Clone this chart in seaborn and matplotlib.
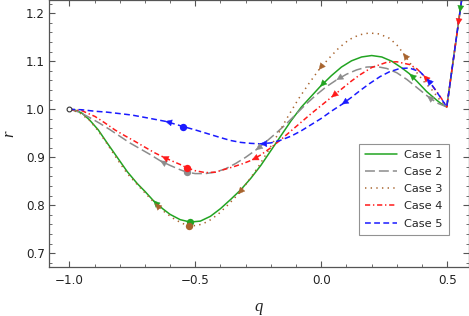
import numpy as np
import pandas as pd
import seaborn as sns
import matplotlib
matplotlib.use("Agg")
import matplotlib.pyplot as plt
from matplotlib.ticker import MultipleLocator

# ---------------- data ----------------
cases = ["Case 1", "Case 2", "Case 3", "Case 4", "Case 5"]

q1 = [-1.0, -0.975, -0.95, -0.92, -0.885, -0.85, -0.81, -0.77, -0.73, -0.70, -0.667, -0.63, -0.60,
      -0.56, -0.52, -0.48, -0.44, -0.40, -0.36, -0.32, -0.28, -0.24, -0.20, -0.16, -0.12, -0.08,
      -0.04, -0.005, 0.04, 0.08, 0.12, 0.16, 0.20, 0.24, 0.28, 0.32, 0.35, 0.38, 0.418, 0.458,
      0.48, 0.498, 0.525, 0.55, 0.557]
r1 = [1.0, 0.998, 0.992, 0.978, 0.957, 0.930, 0.900, 0.870, 0.845, 0.829, 0.810, 0.793, 0.781,
      0.770, 0.765, 0.767, 0.777, 0.793, 0.812, 0.832, 0.856, 0.883, 0.914, 0.945, 0.976, 1.004,
      1.027, 1.047, 1.070, 1.088, 1.101, 1.109, 1.112, 1.109, 1.100, 1.086, 1.074, 1.058, 1.037, 1.019,
      1.010, 1.005, 1.107, 1.202, 1.228]

q2 = [-1.0, -0.96, -0.92, -0.88, -0.84, -0.80, -0.76, -0.72, -0.68, -0.64, -0.60, -0.56, -0.534,
      -0.50, -0.46, -0.42, -0.38, -0.34, -0.30, -0.26, -0.22, -0.18, -0.14, -0.10, -0.06, -0.02,
      0.02, 0.06, 0.10, 0.14, 0.18, 0.22, 0.26, 0.30, 0.34, 0.38, 0.42, 0.46, 0.498, 0.557]
r2 = [1.0, 0.994, 0.983, 0.971, 0.958, 0.944, 0.930, 0.918, 0.906, 0.893, 0.883, 0.874, 0.869,
      0.866, 0.866, 0.869, 0.876, 0.887, 0.900, 0.915, 0.932, 0.950, 0.969, 0.990, 1.011, 1.030,
      1.047, 1.061, 1.073, 1.082, 1.088, 1.089, 1.085, 1.076, 1.062, 1.045, 1.028, 1.013, 1.005, 1.228]

q3 = [-1.0, -0.96, -0.92, -0.885, -0.85, -0.81, -0.77, -0.73, -0.70, -0.66, -0.62, -0.58, -0.55,
      -0.525, -0.49, -0.45, -0.41, -0.37, -0.33, -0.29, -0.25, -0.21, -0.17, -0.13, -0.09, -0.05,
      -0.01, 0.03, 0.07, 0.11, 0.15, 0.19, 0.23, 0.27, 0.30, 0.325, 0.35, 0.378, 0.41, 0.44,
      0.471, 0.498, 0.557]
r3 = [1.0, 0.993, 0.977, 0.955, 0.928, 0.896, 0.866, 0.843, 0.826, 0.804, 0.785, 0.770, 0.762,
      0.757, 0.758, 0.766, 0.781, 0.801, 0.823, 0.850, 0.880, 0.914, 0.950, 0.987, 1.022, 1.053,
      1.082, 1.106, 1.128, 1.145, 1.155, 1.159, 1.157, 1.148, 1.134, 1.117, 1.098, 1.077, 1.056, 1.040,
      1.019, 1.005, 1.228]

q4 = [-1.0, -0.95, -0.898, -0.86, -0.819, -0.78, -0.739, -0.70, -0.66, -0.633, -0.60, -0.56, -0.533,
      -0.50, -0.46, -0.42, -0.389, -0.35, -0.31, -0.276, -0.24, -0.20, -0.16, -0.12, -0.08, -0.04,
      0.0, 0.04, 0.08, 0.12, 0.154, 0.20, 0.26, 0.30, 0.352, 0.38, 0.405, 0.43, 0.458, 0.48,
      0.498, 0.543, 0.557]
r4 = [1.0, 0.997, 0.985, 0.972, 0.957, 0.945, 0.933, 0.921, 0.909, 0.902, 0.894, 0.885, 0.878,
      0.872, 0.868, 0.869, 0.874, 0.880, 0.887, 0.894, 0.905, 0.920, 0.937, 0.955, 0.973, 0.991,
      1.008, 1.025, 1.042, 1.059, 1.072, 1.087, 1.098, 1.099, 1.093, 1.084, 1.071, 1.056, 1.037, 1.020,
      1.005, 1.175, 1.228]

q5 = [-1.0, -0.95, -0.90, -0.85, -0.80, -0.752, -0.70, -0.66, -0.62, -0.58, -0.548, -0.50, -0.45,
      -0.40, -0.36, -0.32, -0.28, -0.243, -0.20, -0.164, -0.12, -0.08, -0.04, 0.0, 0.04, 0.081,
      0.12, 0.154, 0.19, 0.233, 0.27, 0.312, 0.35, 0.392, 0.418, 0.444, 0.47, 0.484, 0.498, 0.557]
r5 = [1.0, 0.999, 0.996, 0.994, 0.991, 0.988, 0.983, 0.979, 0.975, 0.969, 0.964, 0.957, 0.949,
      0.941, 0.935, 0.931, 0.929, 0.928, 0.930, 0.935, 0.944, 0.955, 0.968, 0.981, 0.996, 1.010,
      1.025, 1.039, 1.053, 1.068, 1.078, 1.085, 1.086, 1.078, 1.064, 1.047, 1.027, 1.016, 1.005, 1.228]

# q positions of the direction arrows (flow runs towards lower q)
arrow_q = {
    "Case 1": [-0.667, -0.005, 0.35, 0.55],
    "Case 2": [-0.64, -0.26, 0.06, 0.42],
    "Case 3": [-0.66, -0.33, -0.01, 0.325],
    "Case 4": [-0.633, -0.276, 0.04, 0.405, 0.543],
    "Case 5": [-0.62, -0.243, 0.081, 0.418],
}

# highlighted points
dot_q = [-0.52, -0.534, -0.525, -0.533, -0.548]
dot_r = [0.765, 0.869, 0.757, 0.878, 0.964]

x_ticks = [-1.0, -0.5, 0.0, 0.5]
y_ticks = [0.7, 0.8, 0.9, 1.0, 1.1, 1.2]

# ---------------- styling ----------------
colors = {"Case 1": "#22a422", "Case 2": "#8c8c8c", "Case 3": "#a8642e",
          "Case 4": "#ff1a1a", "Case 5": "#1a1aff"}
dashes = {"Case 1": "", "Case 2": (6.5, 2.6), "Case 3": (0.9, 2.8),
          "Case 4": (3.4, 1.8, 0.9, 1.8), "Case 5": (3.8, 2.2)}

qs = {"Case 1": q1, "Case 2": q2, "Case 3": q3, "Case 4": q4, "Case 5": q5}
rs = {"Case 1": r1, "Case 2": r2, "Case 3": r3, "Case 4": r4, "Case 5": r5}

frames = []
for c in cases:
    frames.append(pd.DataFrame({"q": qs[c], "r": rs[c], "case": c}))
df = pd.concat(frames, ignore_index=True)

sns.set_theme(style="ticks")
plt.rcParams["font.family"] = ["DejaVu Sans"]

fig = plt.figure(figsize=(4.69, 3.16), dpi=100)
ax = fig.add_axes([49 / 469, 1 - 266.7 / 316, 419.7 / 469, 266.7 / 316])

sns.lineplot(data=df, x="q", y="r", hue="case", style="case", hue_order=cases, style_order=cases,
             palette=colors, dashes=dashes, sort=False, estimator=None, units="case",
             linewidth=1.1, ax=ax, legend=True)

ax.set_xlim(-1.0806, 0.585)
ax.set_ylim(0.672, 1.2277)

# highlighted dots
for c, dq, dr in zip(cases, dot_q, dot_r):
    ax.scatter([dq], [dr], s=28, color=colors[c], zorder=5, linewidths=0)

# start point (open circle)
ax.scatter([q1[0]], [r1[0]], s=12, facecolor="white", edgecolor="#333333", linewidths=0.8, zorder=6)

# direction arrows
fig.canvas.draw()
for c in cases:
    qq = np.array(qs[c]); rr = np.array(rs[c])
    for aq in arrow_q[c]:
        i = int(np.argmin(np.abs(qq - aq)))
        p_prev = np.array(ax.transData.transform((qq[i - 1], rr[i - 1])))
        if i + 1 < len(qq):
            p_next = np.array(ax.transData.transform((qq[i + 1], rr[i + 1])))
        else:
            p_next = np.array(ax.transData.transform((qq[i], rr[i])))
        d = p_prev - p_next
        d = d / np.hypot(*d)
        ax.annotate("", xy=(qq[i], rr[i]), xytext=(-d[0] * 5, -d[1] * 5),
                    textcoords="offset points",
                    arrowprops=dict(arrowstyle="-|>,head_length=0.45,head_width=0.22",
                                    color=colors[c], lw=0.3,
                                    mutation_scale=10, shrinkA=0, shrinkB=0),
                    zorder=6)

# axes frame / ticks
ax.xaxis.set_major_locator(MultipleLocator(0.5))
ax.xaxis.set_minor_locator(MultipleLocator(0.1))
ax.yaxis.set_major_locator(MultipleLocator(0.1))
ax.yaxis.set_minor_locator(MultipleLocator(0.02))
ax.set_xticks(x_ticks)
ax.set_yticks(y_ticks)
ax.set_xticklabels([f"{v:.1f}".replace("-", "\u2212") for v in x_ticks])
ax.set_yticklabels([f"{v:.1f}" for v in y_ticks])
ax.tick_params(which="both", direction="in", top=True, right=True, colors="#555555",
               labelcolor="#222222", labelsize=8.6)
ax.tick_params(which="major", length=4, width=0.8)
ax.tick_params(which="minor", length=2.3, width=0.6)
ax.tick_params(axis="x", pad=5)
ax.tick_params(axis="y", pad=3)
for s in ax.spines.values():
    s.set_color("#555555")
    s.set_linewidth(0.9)

ax.set_xlabel("q", fontfamily="Liberation Serif", fontstyle="italic", fontsize=12, labelpad=9, color="#222222")
ax.set_ylabel("r", fontfamily="Liberation Serif", fontstyle="italic", fontsize=12, labelpad=6, color="#222222")

handles, labels = ax.get_legend_handles_labels()
leg = ax.legend(handles, labels, loc="upper right", bbox_to_anchor=(0.953, 0.46),
                fontsize=8.2, frameon=True, fancybox=False, edgecolor="#777777",
                handlelength=2.8, handletextpad=0.6, labelspacing=0.62, borderpad=0.55,
                borderaxespad=0)
leg.get_frame().set_linewidth(0.8)

fig.savefig("out.png", dpi=100)
